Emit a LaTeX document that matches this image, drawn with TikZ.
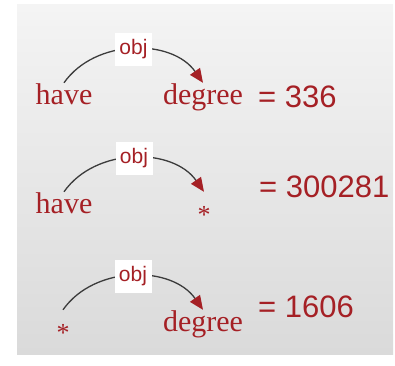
\documentclass[tikz,border=0pt]{standalone}
\usepackage{fontspec}
\setmainfont{Liberation Serif}
\setsansfont{Liberation Sans}
\usepackage{xcolor}
\definecolor{cWord}{HTML}{A52025}
\definecolor{cLine}{HTML}{3C3C3C}
\definecolor{cPanelTop}{HTML}{F4F4F4}
\definecolor{cPanelBot}{HTML}{DADADA}
\usetikzlibrary{arrows.meta}
\tikzset{
  node-word/.style={anchor=base,inner sep=0pt,text height=21pt,text depth=0pt,
    text=cWord,font=\fontsize{30}{36}\selectfont},
  node-count/.style={anchor=base west,inner sep=0pt,text=cWord,
    font=\sffamily\fontsize{31}{36}\selectfont},
  node-rel/.style={fill=white,inner sep=0pt,minimum width=37pt,minimum height=33pt,
    text=cWord,font=\sffamily\fontsize{21}{25}\selectfont},
  arrow-dep/.style={-{Triangle[length=14pt,width=12pt,color=cWord]},
    line width=1.3pt,draw=cLine,bend left=55},
}
% wildcard word, set low on its line
\newcommand{\wild}{\raisebox{-10pt}{\fontsize{26}{30}\selectfont *}}

\begin{document}
\begin{tikzpicture}[x=1pt,y=1pt]
  \useasboundingbox (0,0) rectangle (395,365);
  \shade[top color=cPanelTop,bottom color=cPanelBot] (17,11) rectangle (393,360);

  % have -obj-> degree
  \node[node-word] (have1) at (64,261) {have};
  \node[node-word] (degree1) at (203,261) {degree};
  \node[node-count] (count1) at (258,258) {= 336};
  \draw[arrow-dep] (have1.north) to node[node-rel] (rel1) {obj} (degree1.north);

  % have -obj-> *
  \node[node-word] (have2) at (64,152) {have};
  \node[node-word] (star2) at (204,152) {\wild};
  \node[node-count] (count2) at (259,168) {= 300281};
  \draw[arrow-dep] (have2.north) to node[node-rel] (rel2) {obj} (star2.north);

  % * -obj-> degree
  \node[node-word] (star3) at (63,34) {\wild};
  \node[node-word] (degree3) at (203,34) {degree};
  \node[node-count] (count3) at (258,48) {= 1606};
  \draw[arrow-dep] (star3.north) to node[node-rel] (rel3) {obj} (degree3.north);
\end{tikzpicture}
\end{document}
